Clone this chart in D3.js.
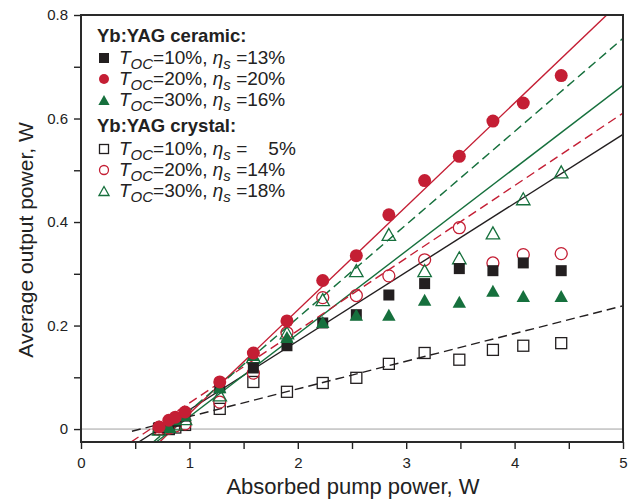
<!DOCTYPE html>
<html>
<head>
<meta charset="utf-8">
<script src="https://cdn.jsdelivr.net/npm/d3@7"></script>
<style>
  body { margin: 0; background: #fff; }
  text { font-family: "Liberation Sans", Arial, sans-serif; }
</style>
</head>
<body>
<div id="chart"></div>
<script>
// absorbed pump power (W), shared by every series
const pumpPower = [0.72, 0.81, 0.87, 0.96, 1.28, 1.59, 1.90, 2.23, 2.54, 2.84, 3.17, 3.49, 3.80, 4.08, 4.43];

// average output power (W)
const ceramic10 = [0.003, 0.010, 0.015, 0.025, 0.080, 0.118, 0.161, 0.205, 0.221, 0.259, 0.281, 0.310, 0.306, 0.321, 0.306];
const ceramic20 = [0.004, 0.017, 0.023, 0.033, 0.091, 0.147, 0.209, 0.287, 0.335, 0.414, 0.480, 0.527, 0.595, 0.630, 0.683];
const ceramic30 = [0.006, 0.006, 0.019, 0.027, 0.081, 0.143, 0.178, 0.207, 0.221, 0.221, 0.250, 0.246, 0.267, 0.257, 0.257];
const crystal10 = [0.000, 0.000, 0.003, 0.008, 0.039, 0.091, 0.072, 0.089, 0.099, 0.126, 0.147, 0.134, 0.153, 0.161, 0.166];
const crystal20 = [0.000, 0.002, 0.006, 0.010, 0.052, 0.108, 0.186, 0.254, 0.258, 0.296, 0.327, 0.389, 0.321, 0.337, 0.339];
const crystal30 = [0.000, 0.005, 0.010, 0.020, 0.066, 0.140, 0.186, 0.250, 0.306, 0.376, 0.306, 0.331, 0.379, 0.445, 0.497];

// linear fits: slope efficiency and threshold (W), same order as the series
const fitSlopes = [0.133, 0.200, 0.160, 0.0535, 0.140, 0.180];
const fitThresholds = [0.72, 0.85, 0.85, 0.55, 0.64, 0.806];
const fitStarts = [null, null, null, 0.47, null, null]; // null = start at the bottom of the plot

const tocLabels = ["10%", "20%", "30%", "10%", "20%", "30%"];
const etaLabels = ["13%", "20%", "16%", "\u2007\u20075%", "14%", "18%"];

const xTicks = [0, 1, 2, 3, 4, 5];
const yTicks = [0, 0.2, 0.4, 0.6, 0.8];

const RED = "#c41e34", GREEN = "#16703d", BLACK = "#231f20";

const series = [
  { values: ceramic10, color: BLACK, shape: "square", filled: true, dash: null },
  { values: ceramic20, color: RED, shape: "circle", filled: true, dash: null },
  { values: ceramic30, color: GREEN, shape: "triangle", filled: true, dash: null },
  { values: crystal10, color: BLACK, shape: "square", filled: false, dash: "9,5" },
  { values: crystal20, color: RED, shape: "circle", filled: false, dash: "9,5" },
  { values: crystal30, color: GREEN, shape: "triangle", filled: false, dash: "9,5" }
];

const WIDTH = 630, HEIGHT = 500;
const margin = { left: 81, right: 7, top: 15, bottom: 58 };

const svg = d3.select("#chart").append("svg")
  .attr("width", WIDTH)
  .attr("height", HEIGHT);

const x = d3.scaleLinear().domain([0, 5]).range([margin.left, WIDTH - margin.right]);
const y = d3.scaleLinear().domain([-0.025, 0.8]).range([HEIGHT - margin.bottom, margin.top]);

svg.append("clipPath").attr("id", "clip")
  .append("rect")
  .attr("x", x(0)).attr("y", y(0.8))
  .attr("width", x(5) - x(0)).attr("height", y(-0.025) - y(0.8));

// zero line
svg.append("line")
  .attr("x1", x(0)).attr("x2", x(5))
  .attr("y1", y(0)).attr("y2", y(0))
  .attr("stroke", "#a0a0a0").attr("stroke-width", 1);

// fit lines
const fitG = svg.append("g").attr("clip-path", "url(#clip)");
series.forEach((s, i) => {
  const k = fitSlopes[i], t = fitThresholds[i];
  const xs = fitStarts[i] !== null ? fitStarts[i] : t - 0.025 / k;
  fitG.append("line")
    .attr("x1", x(xs)).attr("y1", y(k * (xs - t)))
    .attr("x2", x(5)).attr("y2", y(k * (5 - t)))
    .attr("stroke", s.color)
    .attr("stroke-width", 1.4)
    .attr("stroke-dasharray", s.dash);
});

// marker drawing
function drawMarker(g, shape, filled, color, size) {
  const h = size / 2;
  let m;
  if (shape === "square") {
    m = g.append("rect").attr("x", -h).attr("y", -h).attr("width", size).attr("height", size);
  } else if (shape === "circle") {
    m = g.append("circle").attr("r", h);
  } else {
    const w = size * 1.12 / 2;
    m = g.append("path").attr("d", `M0,${-h}L${w},${h}L${-w},${h}Z`);
  }
  m.attr("fill", filled ? color : "#fff")
    .attr("fill-opacity", filled ? 1 : 0)
    .attr("stroke", color)
    .attr("stroke-width", filled ? 0 : 1.3);
}

// markers: open crystal series first, filled ceramic series on top
const drawOrder = [3, 4, 5, 0, 2, 1];
drawOrder.forEach(i => {
  const s = series[i];
  const size = s.shape === "circle" ? (s.filled ? 13 : 12) : (s.shape === "square" ? 11 : 12);
  s.values.forEach((v, j) => {
    const g = svg.append("g").attr("transform", `translate(${x(pumpPower[j])},${y(v)})`);
    drawMarker(g, s.shape, s.filled, s.color, size);
  });
});

// axes
const xAxis = d3.axisBottom(x).tickValues(d3.range(0, 5.01, 0.5)).tickSizeOuter(0).tickSize(7)
  .tickFormat(d => Number.isInteger(d) ? d : "");
const yAxis = d3.axisLeft(y).tickValues(d3.range(0, 0.801, 0.1)).tickSizeOuter(0).tickSize(7)
  .tickFormat(d => yTicks.some(t => Math.abs(t - d) < 1e-9) ? d3.format("~g")(+d.toFixed(1)) : "");

const gx = svg.append("g").attr("transform", `translate(0,${y(-0.025)})`).call(xAxis);
const gy = svg.append("g").attr("transform", `translate(${x(0)},0)`).call(yAxis);
[gx, gy].forEach(g => {
  g.select(".domain").remove();
  g.selectAll("line").attr("stroke", "#222").attr("stroke-width", 1.4);
  g.selectAll("text").attr("font-size", 15).attr("fill", "#222")
    .attr("font-family", "'Liberation Sans', Arial, sans-serif");
});
gx.selectAll("text").attr("dy", "1.05em");
gy.selectAll("text").attr("dx", "-0.2em");

// frame
svg.append("rect")
  .attr("x", x(0)).attr("y", y(0.8))
  .attr("width", x(5) - x(0)).attr("height", y(-0.025) - y(0.8))
  .attr("fill", "none").attr("stroke", "#2a2a2a").attr("stroke-width", 2);

// axis titles
svg.append("text")
  .attr("x", 353).attr("y", 494)
  .attr("text-anchor", "middle").attr("font-size", 22).attr("fill", "#222")
  .text("Absorbed pump power, W");

svg.append("text")
  .attr("transform", `translate(33,240) rotate(-90)`)
  .attr("text-anchor", "middle").attr("font-size", 21).attr("fill", "#222")
  .text("Average output power, W");

// legend
const legend = svg.append("g");
const headers = [{ text: "Yb:YAG ceramic:", y: 42 }, { text: "Yb:YAG crystal:", y: 132 }];
headers.forEach(h => {
  legend.append("text").attr("x", 97).attr("y", h.y)
    .attr("font-size", 18.5).attr("font-weight", "bold").attr("fill", "#222")
    .text(h.text);
});
const rowY = [64, 85, 106, 155, 176, 197];
series.forEach((s, i) => {
  const g = legend.append("g").attr("transform", `translate(104,${rowY[i] - 6})`);
  drawMarker(g, s.shape, s.filled, s.color, s.filled ? 10 : 9);

  const t = legend.append("text").attr("x", 119).attr("y", rowY[i])
    .attr("font-size", 19).attr("fill", "#222");
  t.append("tspan").attr("font-style", "italic").text("T");
  t.append("tspan").attr("font-style", "italic").attr("font-size", 15).attr("dy", 5).text("OC");
  t.append("tspan").attr("dy", -5).text("=" + tocLabels[i] + ", ");
  t.append("tspan").attr("font-style", "italic").text("\u03b7");
  t.append("tspan").attr("font-style", "italic").attr("font-size", 15).attr("dy", 5).text("s");
  t.append("tspan").attr("dy", -5).text(" =" + etaLabels[i]);
});
</script>
</body>
</html>
